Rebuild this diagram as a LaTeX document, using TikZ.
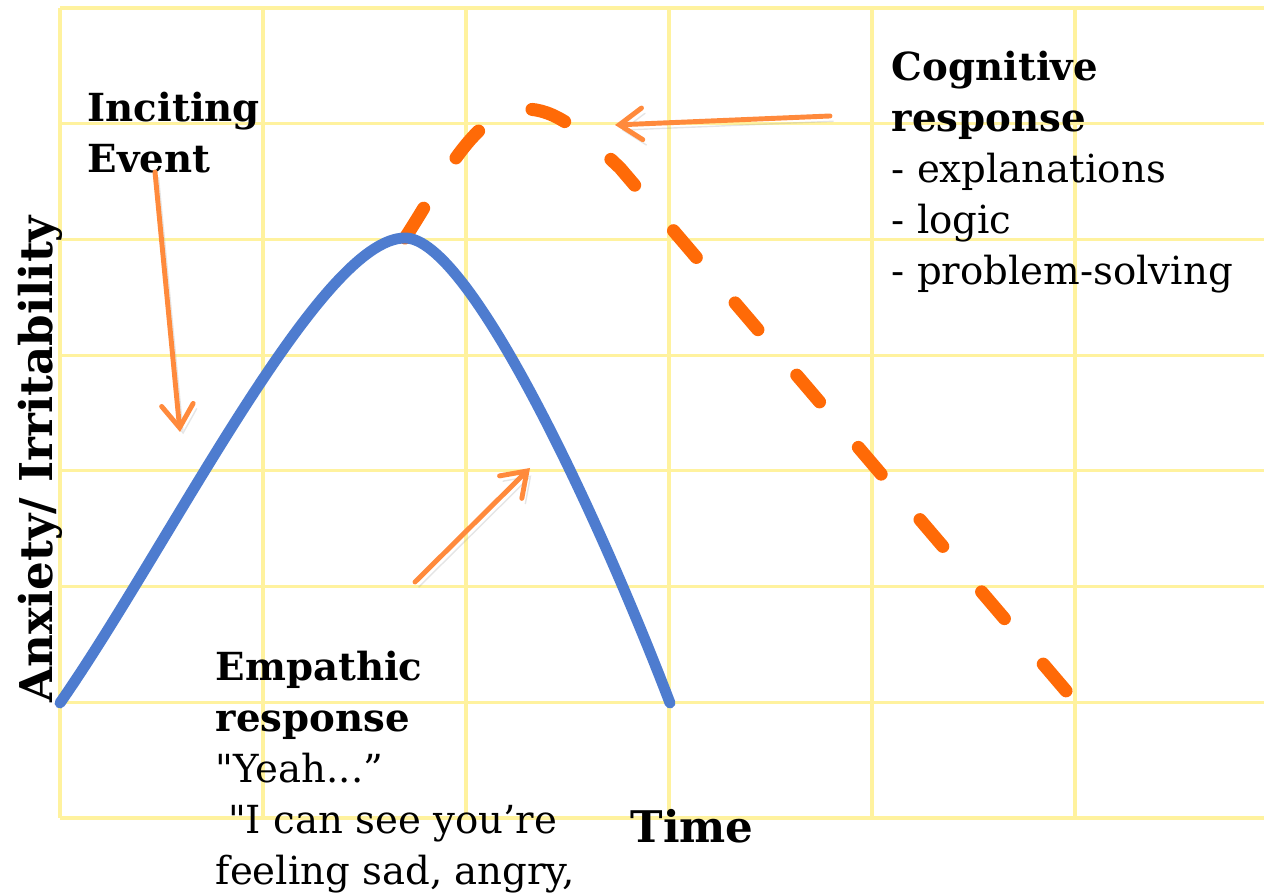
\documentclass[tikz,border=0pt]{standalone}
\usepackage{fontspec}
\setmainfont{DejaVu Serif}[Ligatures=TeXOff]
\usetikzlibrary{arrows.meta}
\usepackage{xcolor}
\definecolor{gridyellow}{HTML}{FFF29E}
\definecolor{curveblue}{HTML}{4E7CCF}
\definecolor{dashorange}{HTML}{FF6A07}
\definecolor{arroworange}{HTML}{FF8A3C}

\begin{document}
\begin{tikzpicture}[x=0.01cm,y=-0.01cm]
	% 定义样式
	\tikzstyle{gridline} = [gridyellow, line width=0.9pt]	% 网格线
	\tikzstyle{blueline} = [curveblue, line width=3.1pt, line cap=round]	% 共情曲线
	\tikzstyle{dashline} = [dashorange, line width=3.7pt, line cap=round, dash pattern=on 10pt off 17pt]	% 认知曲线
	\tikzstyle{arrow} = [arroworange, line width=1.4pt, line cap=round, -{Straight Barb[length=6.5pt,width=9pt,line cap=round]},
		preaction={draw=black!40, opacity=0.25, transform canvas={xshift=1pt,yshift=-1.5pt}}]	% 箭头
	\tikzstyle{textblock} = [anchor=north west, inner sep=0pt, align=left, font=\fontsize{11}{14.5}\selectfont]	% 文字
	\tikzstyle{axislabel} = [inner sep=0pt, font=\fontsize{12.4}{15}\selectfont\bfseries]	% 坐标轴
	\useasboundingbox (0,0) rectangle (1264,895);

	% 网格
	\foreach \gx in {60,263,466,669,872,1075}
		\draw[gridline] (\gx,8) -- (\gx,818);
	\foreach \gy in {8,123.7,239.4,355.1,470.8,586.5,702.2,818}
		\draw[gridline] (60,\gy) -- (1264,\gy);

	% 曲线
	\coordinate (start) at (60,703);
	\coordinate (peak) at (405,238);
	\coordinate (stop) at (670,703);
	\coordinate (top) at (525,109);
	\coordinate (tail) at (1067,692);
	\draw[dashline] (peak) .. controls (440,185) and (475,108) .. (top) .. controls (555,109) and (580,130) .. (620,168) -- (tail);
	\draw[blueline] (start) .. controls (170,545) and (320,238) .. (peak) .. controls (470,238) and (600,520) .. (stop);

	% 文字
	\node (inciting) [textblock] at (87,91) {\bfseries Inciting\\\bfseries Event};
	\node (cognitive) [textblock] at (891,50) {\bfseries Cognitive\\\bfseries response\\- explanations\\- logic\\- problem-solving};
	\node (empathic) [textblock] at (215,650) {\bfseries Empathic\\\bfseries response\\"Yeah...”\\\ "I can see you’re\\feeling sad, angry,};
	\node (time) [axislabel, anchor=base west] at (630,842) {Time};
	\node (anxiety) [axislabel, font=\fontsize{12.85}{15}\selectfont\bfseries, anchor=base west, rotate=90] at (52,703) {Anxiety/ Irritability};

	% 箭头
	\coordinate (incFrom) at (155,172);
	\coordinate (incTo) at (180,432);
	\coordinate (empFrom) at (415,582);
	\coordinate (empTo) at (530,468);
	\coordinate (cogFrom) at (830,116);
	\coordinate (cogTo) at (615,125);
	\draw [arrow] (incFrom) -- (incTo);
	\draw [arrow] (empFrom) -- (empTo);
	\draw [arrow] (cogFrom) -- (cogTo);
\end{tikzpicture}
\end{document}
